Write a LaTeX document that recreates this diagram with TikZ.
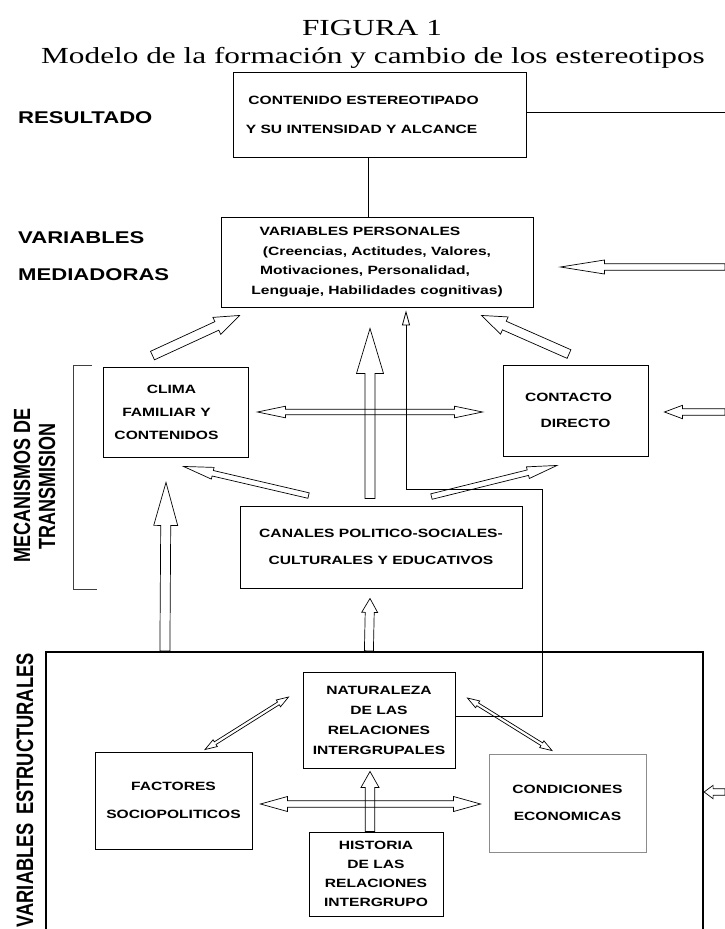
\documentclass[tikz,border=0pt]{standalone}
\usepackage{graphicx}
\usepackage{fontspec}
\setmainfont{Liberation Serif}[FakeStretch=1.36]
\newfontfamily\boxfont{Liberation Sans}[FakeStretch=1.3]
\newfontfamily\sidefont{Liberation Sans}
\usetikzlibrary{calc,arrows.meta}

% hollow block arrow: tail, tip, shaft half width, head half width, head length
\newcommand{\blockarrow}[5]{%
  \draw[hollow] ($(#1)!#3pt!90:(#2)$)
    -- ($(#2)!#5pt!(#1)!#3pt!-90:(#1)$)
    -- ($(#2)!#5pt!(#1)!#4pt!-90:(#1)$)
    -- (#2)
    -- ($(#2)!#5pt!(#1)!#4pt!90:(#1)$)
    -- ($(#2)!#5pt!(#1)!#3pt!90:(#1)$)
    -- ($(#1)!#3pt!-90:(#2)$) -- cycle;}
% same with a head at both ends
\newcommand{\dblockarrow}[5]{%
  \draw[hollow] (#1)
    -- ($(#1)!#5pt!(#2)!#4pt!90:(#2)$)
    -- ($(#1)!#5pt!(#2)!#3pt!90:(#2)$)
    -- ($(#2)!#5pt!(#1)!#3pt!-90:(#1)$)
    -- ($(#2)!#5pt!(#1)!#4pt!-90:(#1)$)
    -- (#2)
    -- ($(#2)!#5pt!(#1)!#4pt!90:(#1)$)
    -- ($(#2)!#5pt!(#1)!#3pt!90:(#1)$)
    -- ($(#1)!#5pt!(#2)!#3pt!-90:(#2)$)
    -- ($(#1)!#5pt!(#2)!#4pt!-90:(#2)$) -- cycle;}

\begin{document}
\begin{tikzpicture}[x=1pt,y=-1pt,
  box/.style={draw, line width=0.9pt, inner sep=0pt, align=center},
  lsp/.style={font=\boxfont\bfseries\fontsize{12}{#1}\selectfont},
  side/.style={font=\boxfont\bfseries\fontsize{17}{37}\selectfont, align=left, inner sep=0pt},
  rot/.style={rotate=90, inner sep=0pt, font=\sidefont\bfseries\fontsize{18}{18}\selectfont},
  hollow/.style={draw, line width=0.7pt, line join=miter},
  thinline/.style={line width=0.8pt}]
\useasboundingbox (0,0) rectangle (725,929);
\coordinate (rgt) at (725,0);

% titulo
\node[anchor=base, font=\fontsize{23}{23}\selectfont] (fig) at (372,35) {FIGURA 1};
\node[anchor=base, font=\fontsize{23}{23}\selectfont] (tit) at (373,63) {Modelo de la formación y cambio de los estereotipos};

% niveles
\node[side, anchor=west] (resl) at (18,118) {RESULTADO};
\node[side, anchor=west] (medl) at (18,256.5) {VARIABLES\\MEDIADORAS};
\node[rot] (mec1) at (22,485) {\scalebox{1}[1.3]{MECANISMOS DE}};
\node[rot] (mec2) at (47,486) {\scalebox{1}[1.3]{TRANSMISION}};
\node[rot, anchor=east, font=\sidefont\bfseries\fontsize{18.3}{18}\selectfont] (estl) at (25,653) {\scalebox{1}[1.3]{VARIABLES\hspace{3pt} ESTRUCTURALES}};
\draw[thinline, black!75] (92,365) -- (73,365) -- (73,589) -- (97,589);

% cajas
\node[box, lsp=29, minimum width=293pt, minimum height=85pt] (res) at (379.5,114.5) {\hspace*{-32pt}CONTENIDO ESTEREOTIPADO\\\hspace*{-36pt}Y SU INTENSIDAD Y ALCANCE};
\node[box, lsp=19.7, minimum width=312pt, minimum height=90pt] (vp) at (377,262) {\hspace*{-34pt}VARIABLES PERSONALES\\(Creencias, Actitudes, Valores,\\\hspace*{-24pt}Motivaciones, Personalidad,\\Lenguaje, Habilidades cognitivas)};
\node[box, lsp=23, minimum width=145pt, minimum height=90pt] (clima) at (175.5,412) {\hspace*{-8pt}CLIMA\\\hspace*{-18pt}FAMILIAR Y\\\hspace*{-18pt}CONTENIDOS};
\node[box, lsp=26, minimum width=145pt, minimum height=91pt] (contacto) at (575.5,410.5) {\hspace*{-14pt}CONTACTO\\DIRECTO};
\node[box, lsp=27, minimum width=282pt, minimum height=82pt] (canales) at (381,547) {CANALES POLITICO-SOCIALES-\\CULTURALES Y EDUCATIVOS};
\node[draw, line width=2.2pt, inner sep=0pt, minimum width=657pt, minimum height=290pt] (estruct) at (374.5,797) {};
\node[box, lsp=20, minimum width=152pt, minimum height=96pt] (natur) at (379,720) {NATURALEZA\\DE LAS\\RELACIONES\\INTERGRUPALES};
\node[box, lsp=28, minimum width=157pt, minimum height=97pt] (factores) at (173.5,800.5) {FACTORES\\SOCIOPOLITICOS};
\node[box, draw=black!45, lsp=27, minimum width=157pt, minimum height=98pt] (condic) at (567.5,803) {CONDICIONES\\ECONOMICAS};
\node[box, lsp=19, minimum width=134pt, minimum height=84pt] (historia) at (376,874) {HISTORIA\\DE LAS\\RELACIONES\\INTERGRUPO};

% lineas
\draw[thinline] ([yshift=2.5pt]res.east) -- ([yshift=2.5pt]res.east -| rgt);
\draw[thinline] ([xshift=-11.5pt]res.south) -- ([xshift=-11.5pt]res.south |- vp.north);

% flechas desde la derecha
\coordinate (vpin) at ($(vp.east)+(27,5)$);
\coordinate (vpsrc) at (vpin -| rgt);
\coordinate (coin) at ($(contacto.east)+(16,1.5)$);
\coordinate (cosrc) at (coin -| rgt);
\coordinate (esin) at ($(estruct.east)+(0,-5)$);
\coordinate (essrc) at (esin -| rgt);
\blockarrow{vpsrc}{vpin}{3.3}{7}{44}
\blockarrow{cosrc}{coin}{3.3}{6.7}{18}
\blockarrow{essrc}{esin}{3.3}{6.7}{9}

% mecanismos -> variables personales
\coordinate (cl1) at ($(clima.north)+(-23,-11)$);
\coordinate (vp1) at ($(vp.south west)+(19,8)$);
\blockarrow{cl1}{vp1}{4.7}{9.4}{25}
\coordinate (co1) at ($(contacto.north)+(-6.5,-10.5)$);
\coordinate (vp2) at ($(vp.south east)+(-52,8)$);
\blockarrow{co1}{vp2}{4.7}{9.4}{25}
\coordinate (ca1) at ($(canales.north)+(-11,-7)$);
\coordinate (vp3) at ($(vp.south)+(-7,21)$);
\blockarrow{ca1}{vp3}{5}{13.5}{45}

% canales -> clima, contacto
\coordinate (ca2) at ($(canales.north west)+(69,-10)$);
\coordinate (cl2) at ($(clima.south)+(8,9)$);
\blockarrow{ca2}{cl2}{2.8}{6}{30}
\coordinate (ca3) at ($(canales.north east)+(-91,-9)$);
\coordinate (co2) at ($(contacto.south)+(-18.5,9)$);
\blockarrow{ca3}{co2}{2.8}{6}{30}
\coordinate (cl3) at ($(clima.east)+(9,0)$);
\coordinate (co3) at ($(contacto.west)+(-20,1.5)$);
\dblockarrow{cl3}{co3}{2.8}{5.8}{28}

% estructurales -> mecanismos
\coordinate (es1) at ($(estruct.north west)+(120,0)$);
\coordinate (cl4) at ($(clima.south)+(-9.5,25)$);
\blockarrow{es1}{cl4}{5}{12}{43}
\coordinate (es2) at ($(estruct.north west)+(324,0)$);
\coordinate (ca4) at ($(canales.south)+(-11,10)$);
\blockarrow{es2}{ca4}{4.5}{8}{14}

% naturaleza -> variables personales
\coordinate (vp4) at ($(vp.south)+(29,3)$);
\draw[thinline, -{Triangle[open, length=15pt, width=8pt]}] ([yshift=4pt]natur.east) -| ($(vp4)+(136,179)$) -| (vp4);

% dentro de variables estructurales
\coordinate (hi1) at ($(historia.north)+(-6,0)$);
\coordinate (na1) at ($(natur.south)+(-9,3)$);
\blockarrow{hi1}{na1}{4.7}{9}{16}
\coordinate (fa1) at ($(factores.east)+(8,3.5)$);
\coordinate (cd1) at ($(condic.west)+(-8,1)$);
\dblockarrow{fa1}{cd1}{3.3}{7.5}{27}
\coordinate (na2) at ($(natur.west)+(-14,-23)$);
\coordinate (fa2) at ($(factores.north)+(31.5,-2)$);
\dblockarrow{na2}{fa2}{1.6}{4}{12}
\coordinate (na3) at ($(natur.east)+(12,-22)$);
\coordinate (cd2) at ($(condic.north)+(-15.5,-3)$);
\dblockarrow{na3}{cd2}{1.6}{4}{12}
\end{tikzpicture}
\end{document}
